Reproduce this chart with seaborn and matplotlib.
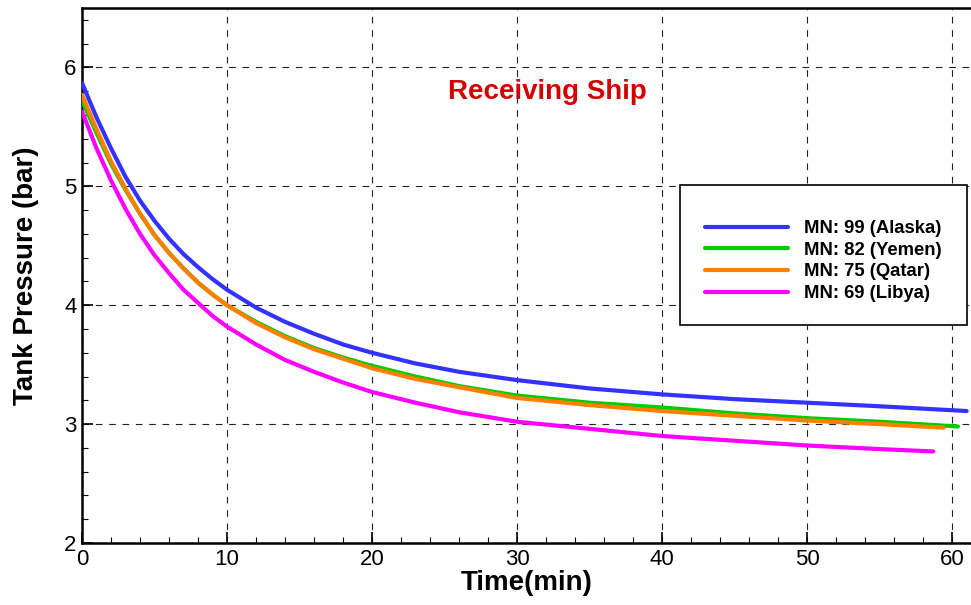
import numpy as np
import pandas as pd
import matplotlib
matplotlib.use("Agg")
import matplotlib.pyplot as plt
from matplotlib.patches import Rectangle
from matplotlib.lines import Line2D
from matplotlib.ticker import MultipleLocator
import seaborn as sns

# ---- data ----
t_alaska = [0, 1, 2, 3, 4, 5, 6, 7, 8, 9, 10, 12, 14, 16, 18, 20, 23, 26, 30, 35, 40, 45, 50, 55, 61]
p_alaska = [5.87, 5.58, 5.32, 5.08, 4.88, 4.71, 4.56, 4.43, 4.32, 4.22, 4.13, 3.98, 3.86, 3.76, 3.67,
            3.60, 3.51, 3.44, 3.37, 3.30, 3.25, 3.21, 3.18, 3.15, 3.11]

t_yemen = [0, 1, 2, 3, 4, 5, 6, 7, 8, 9, 10, 12, 14, 16, 18, 20, 23, 26, 30, 35, 40, 45, 50, 55, 60.4]
p_yemen = [5.72, 5.45, 5.19, 4.97, 4.77, 4.59, 4.44, 4.31, 4.19, 4.09, 4.00, 3.86, 3.74, 3.64, 3.56,
           3.49, 3.40, 3.32, 3.24, 3.18, 3.14, 3.09, 3.05, 3.02, 2.98]

t_qatar = [0, 1, 2, 3, 4, 5, 6, 7, 8, 9, 10, 12, 14, 16, 18, 20, 23, 26, 30, 35, 40, 45, 50, 55, 59.4]
p_qatar = [5.77, 5.48, 5.21, 4.98, 4.77, 4.59, 4.44, 4.31, 4.19, 4.09, 4.00, 3.85, 3.73, 3.63, 3.55,
           3.47, 3.38, 3.31, 3.22, 3.16, 3.11, 3.07, 3.03, 3.00, 2.97]

t_libya = [0, 1, 2, 3, 4, 5, 6, 7, 8, 9, 10, 12, 14, 16, 18, 20, 23, 26, 30, 35, 40, 45, 50, 55, 58.7]
p_libya = [5.63, 5.32, 5.05, 4.81, 4.60, 4.42, 4.27, 4.13, 4.02, 3.91, 3.82, 3.67, 3.54, 3.44, 3.35,
           3.27, 3.18, 3.10, 3.02, 2.96, 2.90, 2.86, 2.82, 2.79, 2.77]

labels = ["MN: 99 (Alaska)", "MN: 82 (Yemen)", "MN: 75 (Qatar)", "MN: 69 (Libya)"]
colors = ["#3333ff", "#00cc00", "#ff8000", "#ff00ff"]

x_ticks = [0, 10, 20, 30, 40, 50, 60]
y_ticks = [2, 3, 4, 5, 6]

frames = []
for lab, t, p in zip(labels, [t_alaska, t_yemen, t_qatar, t_libya],
                     [p_alaska, p_yemen, p_qatar, p_libya]):
    frames.append(pd.DataFrame({"Time": t, "Pressure": p, "Series": lab}))
df = pd.concat(frames, ignore_index=True)

sns.set_style("white")
plt.rcParams["font.family"] = ["Liberation Sans", "DejaVu Sans"]
plt.rcParams["text.color"] = "black"
plt.rcParams["axes.labelcolor"] = "black"
plt.rcParams["xtick.color"] = "black"
plt.rcParams["ytick.color"] = "black"

W, H = 971, 605
fig = plt.figure(figsize=(W / 100, H / 100), dpi=100)
ax = fig.add_axes([82 / W, 1 - 543 / H, (971 - 82) / W, (543 - 8) / H])

sns.lineplot(data=df, x="Time", y="Pressure", hue="Series", hue_order=labels,
             palette=colors, estimator=None, sort=False, linewidth=3.0, ax=ax,
             legend=False, zorder=3)

ax.set_xlim(0, 61.3)
ax.set_ylim(2, 6.5)
ax.set_xticks(x_ticks)
ax.set_yticks(y_ticks)
ax.xaxis.set_minor_locator(MultipleLocator(2))
ax.yaxis.set_minor_locator(MultipleLocator(0.2))
ax.tick_params(axis="both", which="major", direction="in", length=8, width=1.2,
               labelsize=16, colors="black", pad=4)
ax.tick_params(axis="both", which="minor", direction="in", length=4, width=0.8, colors="black")
ax.tick_params(left=True, bottom=True, which="both")

ax.grid(True, which="major", color="#222222", linestyle=(0, (6, 6)), linewidth=0.8)
for s in ["left", "bottom", "top"]:
    ax.spines[s].set_visible(True)
    ax.spines[s].set_linewidth(1.8)
    ax.spines[s].set_color("black")
ax.spines["right"].set_visible(False)

ax.set_xlabel("Time(min)", fontsize=20, fontweight="bold", labelpad=0, color="black")
ax.set_ylabel("Tank Pressure (bar)", fontsize=20, fontweight="bold", labelpad=18, color="black")

ax.text(32.1, 5.79, "Receiving Ship", color="#d40000", fontsize=20,
        fontweight="bold", ha="center", va="center")

# legend box
rect = Rectangle((680 / W, 1 - 325 / H), 287 / W, 140 / H, transform=fig.transFigure,
                 facecolor="white", edgecolor="black", linewidth=1.2, zorder=4, clip_on=False)
ax.add_patch(rect)

handles = [Line2D([0], [0], color=c, lw=3.0) for c in colors]
leg = ax.legend(handles, labels, loc="upper left", bbox_to_anchor=(696 / W, 1 - 211 / H),
                bbox_transform=fig.transFigure, frameon=False, borderpad=0,
                handlelength=4.5, handletextpad=0.85, labelspacing=0.25,
                prop={"size": 13.3, "weight": "bold"})
for txt in leg.get_texts():
    txt.set_color("black")
leg.set_zorder(5)

fig.savefig("out.png", dpi=100)
